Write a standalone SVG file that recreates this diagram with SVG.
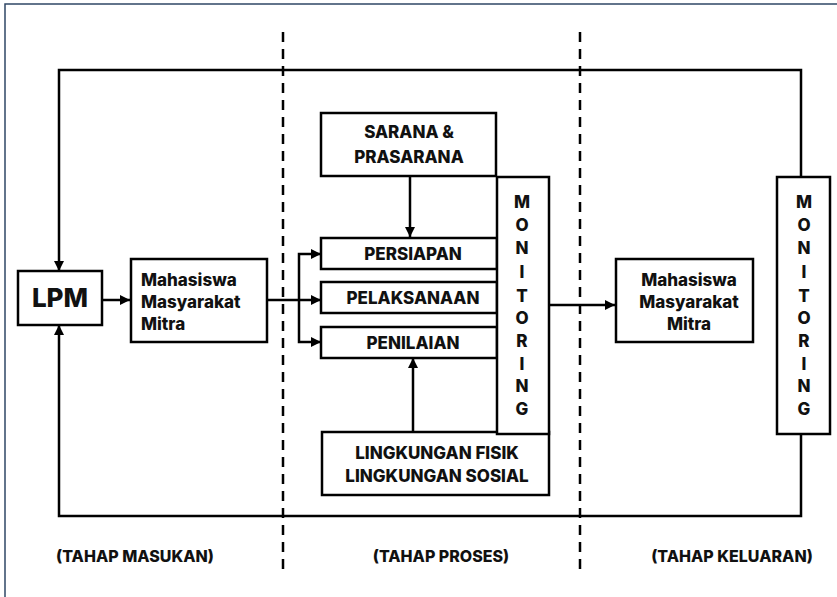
<svg xmlns="http://www.w3.org/2000/svg" width="837" height="597" viewBox="0 0 837 597">
<defs>
<marker id="ah" viewBox="0 0 10 10" refX="10" refY="5" markerWidth="10" markerHeight="10" markerUnits="userSpaceOnUse" orient="auto">
<path d="M0,0 L10,5 L0,10 Z" fill="#000"/>
</marker>
<style>
.box{fill:#fff;stroke:#000;stroke-width:2.5}
.ln{fill:none;stroke:#000;stroke-width:2.5}
.arr{fill:none;stroke:#000;stroke-width:2.5;marker-end:url(#ah)}
.dash{fill:none;stroke:#000;stroke-width:2.5;stroke-dasharray:10,7}
.t{font-family:Inter,"Liberation Sans",Arial,sans-serif;font-weight:800;font-size:17px;fill:#111}
.lab{font-size:16px}
.c{text-anchor:middle}
</style>
</defs>
<rect width="837" height="597" fill="#fff"/>
<rect x="5" y="4" width="845" height="610" fill="none" stroke="#2f4766" stroke-width="1.5"/>
<g id="dividers">
<line class="dash" x1="283" y1="32" x2="283" y2="576"/>
<line class="dash" x1="580" y1="32" x2="580" y2="576"/>
</g>
<g id="connectors">
<polyline class="arr" points="801,177 801,70 59,70 59,271"/>
<polyline class="arr" points="801,434 801,516 59,516 59,325"/>
<line class="arr" x1="102" y1="300" x2="130" y2="300"/>
<line class="arr" x1="267" y1="300" x2="321" y2="300"/>
<polyline class="arr" points="299,300 299,254 321,254"/>
<polyline class="arr" points="299,300 299,342 321,342"/>
<line class="arr" x1="410" y1="176" x2="410" y2="237"/>
<line class="arr" x1="413" y1="432" x2="413" y2="358"/>
<line class="arr" x1="549" y1="305" x2="615" y2="305"/>
</g>
<g id="lpm">
<rect class="box" x="18" y="271" width="84" height="54"/>
<text class="t c" x="60" y="307" style="font-size:26px">LPM</text>
</g>
<g id="input">
<rect class="box" x="131" y="259" width="136" height="83"/>
<text class="t" x="141" y="286">Mahasiswa</text>
<text class="t" x="141" y="308">Masyarakat</text>
<text class="t" x="141" y="330">Mitra</text>
</g>
<g id="sarana">
<rect class="box" x="321" y="113" width="175" height="63"/>
<text class="t c" x="409" y="138">SARANA &amp;</text>
<text class="t c" x="409" y="163">PRASARANA</text>
</g>
<g id="persiapan">
<rect class="box" x="321" y="238" width="176" height="31"/>
<text class="t c" x="413" y="260">PERSIAPAN</text>
</g>
<g id="pelaksanaan">
<rect class="box" x="321" y="282" width="176" height="31"/>
<text class="t c" x="413" y="304">PELAKSANAAN</text>
</g>
<g id="penilaian">
<rect class="box" x="321" y="327" width="176" height="31"/>
<text class="t c" x="413" y="349">PENILAIAN</text>
</g>
<g id="lingkungan">
<rect class="box" x="322" y="432" width="227" height="63"/>
<text class="t c" x="437" y="459">LINGKUNGAN FISIK</text>
<text class="t c" x="437" y="482">LINGKUNGAN SOSIAL</text>
</g>
<g id="monitoring1">
<rect class="box" x="497" y="177" width="52" height="257"/>
<text class="t c" x="522" y="208">M</text>
<text class="t c" x="522" y="231">O</text>
<text class="t c" x="522" y="254">N</text>
<text class="t c" x="522" y="278">I</text>
<text class="t c" x="522" y="302">T</text>
<text class="t c" x="522" y="324">O</text>
<text class="t c" x="522" y="347">R</text>
<text class="t c" x="522" y="370">I</text>
<text class="t c" x="522" y="392">N</text>
<text class="t c" x="522" y="415">G</text>
</g>
<g id="output">
<rect class="box" x="616" y="259" width="137" height="83"/>
<text class="t c" x="689" y="286">Mahasiswa</text>
<text class="t c" x="689" y="308">Masyarakat</text>
<text class="t c" x="689" y="330">Mitra</text>
</g>
<g id="monitoring2">
<rect class="box" x="777" y="177" width="53" height="257"/>
<text class="t c" x="804" y="208">M</text>
<text class="t c" x="804" y="231">O</text>
<text class="t c" x="804" y="254">N</text>
<text class="t c" x="804" y="278">I</text>
<text class="t c" x="804" y="302">T</text>
<text class="t c" x="804" y="324">O</text>
<text class="t c" x="804" y="347">R</text>
<text class="t c" x="804" y="370">I</text>
<text class="t c" x="804" y="392">N</text>
<text class="t c" x="804" y="415">G</text>
</g>
<g id="labels">
<text class="t lab c" x="135" y="562">(TAHAP MASUKAN)</text>
<text class="t lab c" x="441" y="562">(TAHAP PROSES)</text>
<text class="t lab c" x="732" y="562">(TAHAP KELUARAN)</text>
</g>
</svg>
